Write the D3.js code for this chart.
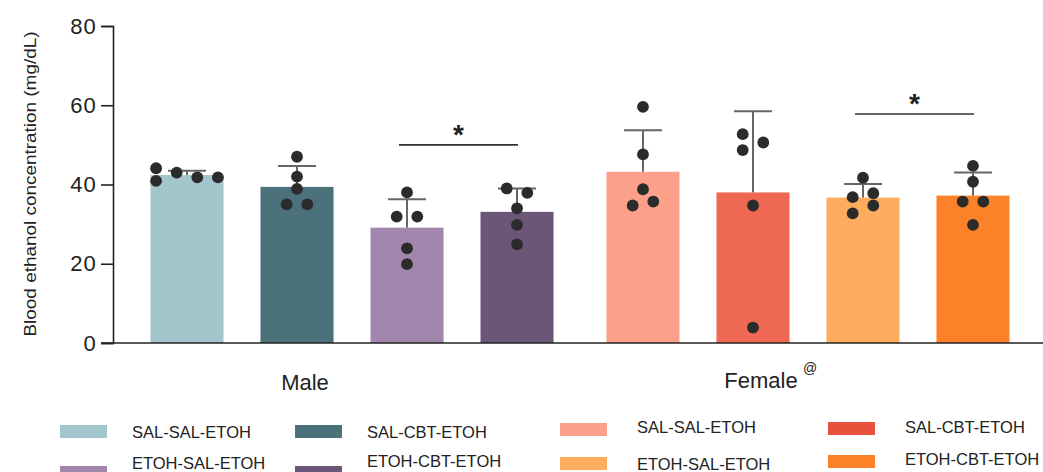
<!DOCTYPE html>
<html>
<head>
<meta charset="utf-8">
<script src="https://cdn.jsdelivr.net/npm/d3@7"></script>
<style>
  body { margin: 0; background: #fff; }
  text { font-family: "Liberation Sans", Arial, sans-serif; fill: #222; }
</style>
</head>
<body>
<svg id="chart" width="1043" height="472"></svg>
<script>
// data
const groups = ['Male', 'Female'];
const conditions = ['SAL-SAL-ETOH', 'SAL-CBT-ETOH', 'ETOH-SAL-ETOH', 'ETOH-CBT-ETOH'];
const maleMeans = [42.4, 39.4, 29.1, 33.1];
const maleSD = [1.1, 5.3, 7.2, 5.9];
const femaleMeans = [43.2, 38.0, 36.7, 37.2];
const femaleSD = [10.5, 20.5, 3.4, 5.8];
// individual animals: [value, jitter slot]
const maleDots = [
  [[44.1, -3], [40.9, -3], [43.0, -1], [41.8, 1], [41.8, 3]],
  [[47.0, 0], [42.0, 0], [38.9, 0], [35.0, -1], [35.0, 1]],
  [[38.0, 0], [31.9, -1], [31.9, 1], [23.9, 0], [19.9, 0]],
  [[39.0, -1], [37.9, 1], [34.0, 0], [29.8, 0], [24.9, 0]]
];
const femaleDots = [
  [[59.6, 0], [47.6, 0], [38.8, 0], [34.7, -1], [35.7, 1]],
  [[52.7, -1], [48.7, -1], [50.6, 1], [34.7, 0], [3.9, 0]],
  [[41.7, 0], [36.8, -1], [37.8, 1], [34.7, 1], [32.7, -1]],
  [[44.7, 0], [40.7, 0], [35.7, -1], [35.7, 1], [29.8, 0]]
];
const maleColors = ['#a3c6cc', '#4b717b', '#a386ad', '#6c5678'];
const femaleColors = ['#fda089', '#ee6854', '#fead5e', '#fd8128'];
const yTicks = [0, 20, 40, 60, 80];
// significance: [group, from condition, to condition, height]
const comparisons = [
  ['Male', 2, 3, 50.0],
  ['Female', 2, 3, 57.8]
];

const svg = d3.select('#chart');

const y = d3.scaleLinear().domain([0, 80]).range([343, 26]);
const x0 = d3.scaleBand().domain(groups).range([132, 1028]).paddingInner(0.035);
const x1 = d3.scaleBand().domain(d3.range(4)).range([0, x0.bandwidth()])
  .paddingInner(0.336).paddingOuter(0.168);

const series = [
  { group: 'Male', means: maleMeans, sd: maleSD, dots: maleDots, colors: maleColors },
  { group: 'Female', means: femaleMeans, sd: femaleSD, dots: femaleDots, colors: femaleColors }
];

const bars = [];
series.forEach(s => {
  s.means.forEach((m, i) => {
    bars.push({ group: s.group, i: i, mean: m, sd: s.sd[i], dots: s.dots[i], color: s.colors[i] });
  });
});
const cx = d => x0(d.group) + x1(d.i) + x1.bandwidth() / 2;

// bars
svg.append('g').selectAll('rect')
  .data(bars)
  .enter()
  .append('rect')
  .attr('x', d => x0(d.group) + x1(d.i))
  .attr('y', d => y(d.mean))
  .attr('width', x1.bandwidth())
  .attr('height', d => y(0) - y(d.mean))
  .attr('fill', d => d.color);

// error bars (upper only)
const err = svg.append('g').attr('stroke', '#666').attr('stroke-width', 2);
err.selectAll('.whisk')
  .data(bars)
  .enter()
  .append('line')
  .attr('x1', cx).attr('x2', cx)
  .attr('y1', d => y(d.mean))
  .attr('y2', d => y(d.mean + d.sd));
err.selectAll('.cap')
  .data(bars)
  .enter()
  .append('line')
  .attr('x1', d => cx(d) - 19).attr('x2', d => cx(d) + 19)
  .attr('y1', d => y(d.mean + d.sd))
  .attr('y2', d => y(d.mean + d.sd));

// dots
const dotData = [];
bars.forEach(b => b.dots.forEach(p => dotData.push({ bar: b, v: p[0], slot: p[1] })));
svg.append('g').selectAll('circle')
  .data(dotData)
  .enter()
  .append('circle')
  .attr('cx', d => cx(d.bar) + d.slot * 10.3)
  .attr('cy', d => y(d.v))
  .attr('r', 5.9)
  .attr('fill', '#2b2b2b');

// significance lines
const sig = svg.append('g');
comparisons.forEach(c => {
  const a = cx({ group: c[0], i: c[1] }) - 8;
  const b = cx({ group: c[0], i: c[2] }) + 1;
  sig.append('line')
    .attr('x1', a).attr('x2', b)
    .attr('y1', y(c[3])).attr('y2', y(c[3]))
    .attr('stroke', '#333').attr('stroke-width', 1.6);
  sig.append('text')
    .attr('x', (a + b) / 2)
    .attr('y', y(c[3]) - 1)
    .attr('text-anchor', 'middle')
    .attr('font-size', 28)
    .attr('font-weight', 'bold')
    .text('*');
});

// y axis
const yAxis = d3.axisLeft(y).tickValues(yTicks).tickSize(12).tickPadding(4);
const gy = svg.append('g')
  .attr('transform', 'translate(113,0)')
  .call(yAxis);
gy.select('.domain').attr('stroke', '#222').attr('stroke-width', 1.6);
gy.selectAll('.tick line').attr('stroke', '#222').attr('stroke-width', 1.6);
gy.selectAll('.tick text')
  .attr('font-size', 22)
  .attr('font-family', '"Liberation Sans", Arial, sans-serif')
  .attr('fill', '#222')
  .attr('letter-spacing', 1.2);

// x axis baseline
svg.append('line')
  .attr('x1', 101).attr('x2', 1043)
  .attr('y1', y(0)).attr('y2', y(0))
  .attr('stroke', '#222').attr('stroke-width', 1.6);

// group labels
const gl = svg.append('g');
groups.forEach(g => {
  gl.append('text')
    .attr('x', x0(g) + x0.bandwidth() / 2 - 47)
    .attr('y', g === 'Male' ? 390 : 388)
    .attr('text-anchor', 'middle')
    .attr('font-size', 22)
    .text(g);
});
gl.append('text')
  .attr('x', x0('Female') + x0.bandwidth() / 2 - 46 + 41)
  .attr('y', 373)
  .attr('font-size', 14)
  .text('@');

// y axis title
svg.append('text')
  .attr('transform', 'translate(36,184) rotate(-90)')
  .attr('text-anchor', 'middle')
  .attr('font-size', 16)
  .attr('textLength', 305)
  .attr('lengthAdjust', 'spacingAndGlyphs')
  .text('Blood ethanol concentration (mg/dL)');

// legend
const legendPos = [
  [60, 425, 438], [295, 425, 438], [60, 466, 469], [295, 466, 467],
  [560, 423, 433], [828, 422, 433], [560, 457, 470], [828, 455, 465]
];
const legendItems = [];
series.forEach(s => conditions.forEach((c, i) => legendItems.push({ label: c, color: s.colors[i] })));
// female SAL-CBT swatch in the legend is a deeper red than its bar
legendItems[5].color = '#e8523c';
const lg = svg.append('g');
legendItems.forEach((it, k) => {
  const p = legendPos[k];
  lg.append('rect')
    .attr('x', p[0]).attr('y', p[1])
    .attr('width', 47).attr('height', 13)
    .attr('fill', it.color);
  lg.append('text')
    .attr('x', p[0] + (p[0] < 500 ? 72 : 77))
    .attr('y', p[2])
    .attr('font-size', 16.5)
    .text(it.label);
});
</script>
</body>
</html>
